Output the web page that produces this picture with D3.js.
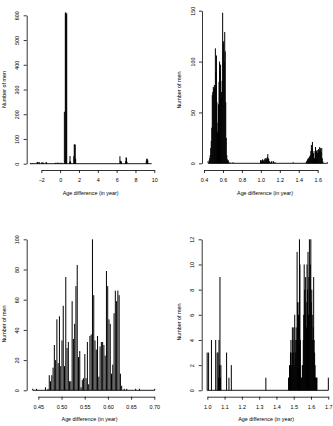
<!DOCTYPE html>
<html>
<head>
<meta charset="utf-8">
<script src="https://cdn.jsdelivr.net/npm/d3@7/dist/d3.min.js"></script>
<style>
body { margin: 0; background: #fff; }
svg { display: block; font-family: "Liberation Sans", Arial, sans-serif; }
</style>
</head>
<body>
<svg id="chart" width="333" height="426"></svg>
<script>

// whole range, age difference in years
var allYears = [-3.2, -3.1, -2.95, -2.45, -2.4, -2.3, -2.2, -1.95, -1.9, -1.75,
    -1.5, -1.45, -1.4, -0.55, -0.45, -0.3, -0.15, 0, 0.1, 0.2,
    0.45, 0.55, 0.6, 0.65, 0.7, 1.0, 1.05, 1.1, 1.15, 1.45,
    1.5, 1.55, 1.6, 1.65, 2.75, 4.65, 6.35, 6.4, 6.45, 6.5,
    6.95, 7.0, 7.05, 7.1, 9.15, 9.2, 9.25, 9.3, 9.35, 9.7];
var allCounts = [1, 2, 2, 6, 7, 5, 6, 5, 6, 4,
    5, 6, 3, 3, 4, 4, 4, 3, 4, 3,
    210, 610, 612, 605, 608, 8, 31, 10, 4, 30,
    78, 78, 77, 20, 1, 1, 30, 12, 6, 10,
    10, 25, 24, 8, 12, 20, 20, 15, 3, 1];

// 0.4 - 1.7 year, two-day bins (in days)
var midDays = [162, 166, 168, 170, 172, 174, 176, 178, 180, 182,
    184, 186, 188, 190, 192, 194, 196, 198, 200, 202,
    204, 206, 208, 210, 212, 214, 216, 218, 220, 222,
    224, 226, 228, 230, 232, 234, 236, 238, 240, 246, 258,
    364, 366, 368, 370, 372, 374, 376, 378, 380, 382,
    384, 386, 388, 390, 392, 394, 396, 398, 400, 404,
    406, 408, 414, 416, 420, 490,
    540, 542, 544, 546, 548, 550, 552, 554, 556, 558,
    560, 562, 564, 566, 568, 570, 572, 574, 576, 578,
    580, 582, 584, 586, 588, 590, 592, 594, 596, 598,
    600, 602, 604, 622];
var midCounts = [2, 3, 5, 8, 15, 22, 35, 67, 70, 75,
    73, 77, 74, 113, 90, 106, 60, 31, 40, 58,
    80, 100, 90, 97, 64, 70, 81, 148, 118, 120,
    100, 129, 110, 60, 25, 8, 4, 2, 3, 1, 1,
    3, 3, 2, 3, 4, 2, 3, 1, 4, 5,
    3, 5, 4, 6, 9, 5, 4, 2, 1, 1,
    2, 2, 2, 1, 1, 1,
    1, 2, 3, 4, 5, 5, 6, 7, 8, 12,
    18, 14, 21, 12, 10, 3, 5, 12, 16, 11,
    12, 13, 10, 13, 14, 12, 16, 13, 15, 11,
    15, 5, 2, 1];

// first peak, daily (in days)
var peakDays = [160, 163, 170, 172, 173, 174, 175, 176, 177, 178,
    179, 180, 181, 182, 183, 184, 185, 186, 187, 188,
    189, 190, 191, 192, 193, 194, 195, 196, 197, 198,
    199, 200, 201, 202, 203, 204, 205, 206, 207, 208,
    209, 210, 211, 212, 213, 214, 215, 216, 217, 218,
    219, 220, 221, 222, 223, 224, 225, 226, 227, 228,
    229, 230, 232, 234, 241, 244, 256];
var peakCounts = [1, 1, 2, 1, 10, 6, 10, 15, 30, 20,
    47, 18, 49, 16, 33, 56, 16, 75, 28, 32,
    6, 6, 59, 34, 44, 69, 83, 22, 26, 2,
    7, 8, 24, 8, 32, 4, 36, 37, 100, 63,
    33, 27, 36, 9, 29, 32, 32, 30, 23, 79,
    69, 47, 44, 11, 17, 51, 66, 59, 66, 63,
    11, 3, 1, 1, 1, 1, 1];

// one year and more, daily (in days)
var lateDays = [365, 368, 374, 383, 386, 388, 389, 390, 391, 392,
    393, 394, 406, 411, 416, 489,
    537, 538, 539, 540, 541, 542, 543, 544, 545, 546,
    547, 548, 549, 550, 551, 552, 553, 554, 555, 556,
    557, 558, 559, 560, 561, 562, 563, 564, 565, 566,
    567, 568, 569, 570, 571, 572, 573, 574, 575, 576,
    577, 578, 579, 580, 581, 582, 583, 584, 585, 586,
    587, 588, 589, 590, 591, 592, 593, 594, 595, 596,
    597, 621];
var lateCounts = [3, 3, 4, 4, 3, 3, 1, 4, 2, 9,
    1, 2, 3, 1, 2, 1,
    1, 1, 2, 1, 3, 4, 2, 3, 5, 4,
    3, 5, 2, 6, 4, 3, 5, 4, 11, 7,
    5, 6, 7, 12, 10, 4, 1, 1, 1, 2,
    2, 4, 6, 10, 8, 6, 9, 7, 5, 10,
    8, 11, 6, 9, 12, 8, 10, 12, 7, 8,
    6, 4, 5, 9, 4, 3, 2, 1, 1, 1,
    1, 1];

var allTicks = [-2, 0, 2, 4, 6, 8, 10];
var allLabels = ["\u22122", "0", "2", "4", "6", "8", "10"];
var allCountTicks = [0, 100, 200, 300, 400, 500, 600];

var midTicks = [0.4, 0.6, 0.8, 1.0, 1.2, 1.4, 1.6];
var midLabels = ["0.4", "0.6", "0.8", "1.0", "1.2", "1.4", "1.6"];
var midCountTicks = [0, 50, 100, 150];

var peakTicks = [0.45, 0.50, 0.55, 0.60, 0.65, 0.70];
var peakLabels = ["0.45", "0.50", "0.55", "0.60", "0.65", "0.70"];
var peakCountTicks = [0, 20, 40, 60, 80, 100];

var lateTicks = [1.0, 1.1, 1.2, 1.3, 1.4, 1.5, 1.6, 1.7];
var lateLabels = ["1.0", "1.1", "1.2", "1.3", "1.4", "1.5", "1.6", "1.7"];
var lateCountTicks = [0, 2, 4, 6, 8, 10, 12];

var DAYS_PER_YEAR = 365.25;
function toYears(d) { return d / DAYS_PER_YEAR; }

var svg = d3.select("#chart");
var fontSize = 5.4;

function drawPanel(p) {
    var x = d3.scaleLinear()
        .domain([p.xTicks[0], p.xTicks[p.xTicks.length - 1]])
        .range(p.xRange);
    var y = d3.scaleLinear()
        .domain([p.yTicks[0], p.yTicks[p.yTicks.length - 1]])
        .range(p.yRange);

    var g = svg.append("g");
    var pts = d3.zip(p.xs, p.counts);

    // line along zero, from first to last value
    g.append("line")
        .attr("x1", x(d3.min(p.xs)))
        .attr("x2", x(d3.max(p.xs)))
        .attr("y1", y(0))
        .attr("y2", y(0))
        .attr("stroke", "#000")
        .attr("stroke-width", 0.9);

    g.selectAll("line.bar")
        .data(pts)
        .enter().append("line")
        .attr("class", "bar")
        .attr("x1", function(d) { return x(d[0]); })
        .attr("x2", function(d) { return x(d[0]); })
        .attr("y1", y(0))
        .attr("y2", function(d) { return y(d[1]); })
        .attr("stroke", "#000")
        .attr("stroke-width", 1);

    var xa = g.append("g")
        .attr("transform", "translate(0," + p.axisY + ")")
        .call(d3.axisBottom(x)
            .tickValues(p.xTicks)
            .tickFormat(function(d, i) { return p.xLabels[i]; })
            .tickSize(3)
            .tickSizeOuter(0));
    xa.selectAll("text")
        .attr("y", 12)
        .attr("dy", 0);

    var ya = g.append("g")
        .attr("transform", "translate(" + p.axisX + ",0)")
        .call(d3.axisLeft(y)
            .tickValues(p.yTicks)
            .tickSize(3)
            .tickSizeOuter(0));
    ya.selectAll("text")
        .attr("x", 0)
        .attr("dy", 0)
        .attr("text-anchor", "middle")
        .attr("transform", "translate(-7.4,0) rotate(-90)");

    [xa, ya].forEach(function(a) {
        a.attr("font-family", null)
            .attr("font-size", fontSize)
            .attr("color", "#000");
        a.selectAll("path, line").attr("stroke-width", 0.8);
    });

    g.append("text")
        .attr("x", p.xTitle[0])
        .attr("y", p.xTitle[1])
        .attr("text-anchor", "middle")
        .attr("font-size", fontSize)
        .text("Age difference (in year)");

    g.append("text")
        .attr("text-anchor", "middle")
        .attr("font-size", fontSize)
        .attr("transform", "translate(" + p.yTitle[0] + "," + p.yTitle[1] + ") rotate(-90)")
        .text("Number of men");
}

drawPanel({
    xs: allYears, counts: allCounts,
    xTicks: allTicks, xLabels: allLabels, yTicks: allCountTicks,
    xRange: [41.3, 154.3], yRange: [163.7, 15.3],
    axisX: 26.7, axisY: 170, xTitle: [90.7, 194.5], yTitle: [6.3, 89.5]
});

drawPanel({
    xs: midDays.map(toYears), counts: midCounts,
    xTicks: midTicks, xLabels: midLabels, yTicks: midCountTicks,
    xRange: [204, 317.7], yRange: [163.3, 10.7],
    axisX: 202, axisY: 170, xTitle: [265, 194.5], yTitle: [180.6, 90]
});

drawPanel({
    xs: peakDays.map(toYears), counts: peakCounts,
    xTicks: peakTicks, xLabels: peakLabels, yTicks: peakCountTicks,
    xRange: [38.3, 154.3], yRange: [390.3, 239.3],
    axisX: 26.7, axisY: 396.7, xTitle: [89.5, 421.3], yTitle: [6.1, 324]
});

drawPanel({
    xs: lateDays.map(toYears), counts: lateCounts,
    xTicks: lateTicks, xLabels: lateLabels, yTicks: lateCountTicks,
    xRange: [207.3, 328.3], yRange: [390.3, 239.3],
    axisX: 201.7, axisY: 396.7, xTitle: [266.2, 421.3], yTitle: [180.7, 322]
});

</script>
</body>
</html>
